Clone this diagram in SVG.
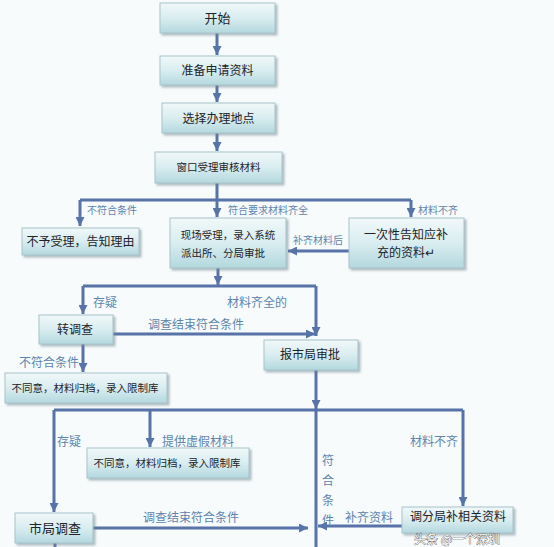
<svg xmlns="http://www.w3.org/2000/svg" width="554" height="547" viewBox="0 0 554 547">
<style>
.box{fill:url(#g);stroke:#a8c3cb;stroke-width:1;filter:url(#sh)}
.t{font-family:"Noto Sans CJK SC","Noto Sans",sans-serif;fill:#1c2228;text-anchor:middle}
.l{font-family:"Noto Sans CJK SC","Noto Sans",sans-serif;fill:#5d84ad;font-size:12px}
.s{font-size:10px}
.c{fill:none;stroke:#5773a8;stroke-width:3}
.a{marker-end:url(#ah)}
</style>
<defs>
<linearGradient id="g" x1="0" y1="0" x2="0" y2="1">
<stop offset="0" stop-color="#f1f8f9"/>
<stop offset="0.5" stop-color="#d9edf0"/>
<stop offset="1" stop-color="#b3d8de"/>
</linearGradient>
<filter id="sh" x="-10%" y="-20%" width="125%" height="150%">
<feDropShadow dx="2" dy="2" stdDeviation="1.2" flood-color="#6f8790" flood-opacity="0.55"/>
</filter>
<marker id="ah" viewBox="0 0 10 10" refX="10" refY="5" markerWidth="9" markerHeight="9" markerUnits="userSpaceOnUse" orient="auto">
<path d="M0,0 L10,5 L0,10 z" fill="#5773a8"/>
</marker>
</defs>
<rect width="554" height="547" fill="#f7fbfc"/>
<g id="connectors">
<path class="c a" d="M217,33 V55"/>
<path class="c a" d="M217,85 V102"/>
<path class="c a" d="M217,133 V151"/>
<path class="c" d="M217,183 V200 M80,200 H411"/>
<path class="c a" d="M80,200 V226"/>
<path class="c a" d="M217,200 V217"/>
<path class="c a" d="M411,200 V217"/>
<path class="c a" d="M349,251 H288"/>
<path class="c a" d="M218,268 V285"/>
<path class="c" d="M83,286 H316"/>
<path class="c a" d="M83,286 V314"/>
<path class="c a" d="M316,286 V336"/>
<path class="c a" d="M113,334 H315"/>
<path class="c a" d="M83,344 V372"/>
<path class="c a" d="M316,370 V409"/>
<path class="c" d="M54,410 H463 M316,410 V547"/>
<path class="c a" d="M54,410 V512"/>
<path class="c a" d="M150,410 V447"/>
<path class="c a" d="M463,410 V506"/>
<path class="c a" d="M402,526 H318"/>
<path class="c a" d="M93,528 H308"/>
<path class="c" d="M55,543 V547"/>
</g>
<g id="labels">
<text class="l s" x="87" y="214">不符合条件</text>
<text class="l s" x="228" y="214">符合要求材料齐全</text>
<text class="l s" x="418" y="214">材料不齐</text>
<text class="l s" x="293" y="244">补齐材料后</text>
<text class="l" x="93" y="307">存疑</text>
<text class="l" x="227" y="307">材料齐全的</text>
<text class="l" x="148" y="329">调查结束符合条件</text>
<text class="l" x="19" y="367">不符合条件</text>
<text class="l" x="57" y="446">存疑</text>
<text class="l" x="162" y="446">提供虚假材料</text>
<text class="l" x="410" y="446">材料不齐</text>
<text class="l" x="322" y="465">符</text>
<text class="l" x="322" y="485">合</text>
<text class="l" x="322" y="505">条</text>
<text class="l" x="322" y="525">件</text>
<text class="l" x="345" y="522">补齐资料</text>
<text class="l" x="143" y="522">调查结束符合条件</text>
</g>
<g id="n1"><rect class="box" x="160" y="3" width="115" height="30"/><text class="t" x="217.5" y="23" font-size="13">开始</text></g>
<g id="n2"><rect class="box" x="160" y="56" width="115" height="29"/><text class="t" x="217.5" y="75" font-size="12">准备申请资料</text></g>
<g id="n3"><rect class="box" x="162" y="103" width="113" height="30"/><text class="t" x="218.5" y="123" font-size="12">选择办理地点</text></g>
<g id="n4"><rect class="box" x="155" y="152" width="127" height="31"/><text class="t" x="218.5" y="171" font-size="10.5">窗口受理审核材料</text></g>
<g id="n5"><rect class="box" x="22" y="228" width="117" height="27"/><text class="t" x="80.5" y="246" font-size="12">不予受理，告知理由</text></g>
<g id="n6"><rect class="box" x="170" y="218" width="116" height="50"/><text class="t" x="228" y="239" font-size="10.5">现场受理，录入系统</text><text class="t" x="223" y="257" font-size="10.5">派出所、分局审批</text></g>
<g id="n7"><rect class="box" x="349" y="218" width="115" height="50"/><text class="t" x="406" y="239" font-size="12">一次性告知应补</text><text class="t" x="406" y="257" font-size="12">充的资料↵</text></g>
<g id="n8"><rect class="box" x="39" y="315" width="74" height="29"/><text class="t" x="75" y="334" font-size="12">转调查</text></g>
<g id="n9"><rect class="box" x="264" y="340" width="94" height="30"/><text class="t" x="310" y="359" font-size="12">报市局审批</text></g>
<g id="n10"><rect class="box" x="5" y="373" width="162" height="30"/><text class="t" x="85" y="392" font-size="10.5">不同意，材料归档，录入限制库</text></g>
<g id="n11"><rect class="box" x="87" y="448" width="162" height="30"/><text class="t" x="167" y="467" font-size="10.5">不同意，材料归档，录入限制库</text></g>
<g id="n12"><rect class="box" x="402" y="507" width="111" height="26"/><text class="t" x="458" y="521" font-size="12">调分局补相关资料</text></g>
<g id="n13"><rect class="box" x="15" y="513" width="78" height="30"/><text class="t" x="55" y="533" font-size="13">市局调查</text></g>
<g id="watermark"><text x="414" y="544" font-family="Noto Sans CJK SC,sans-serif" font-size="12" fill="#ffffff" stroke="#333" stroke-width="0.6" paint-order="stroke">头条 @一个深圳</text></g>
</svg>
